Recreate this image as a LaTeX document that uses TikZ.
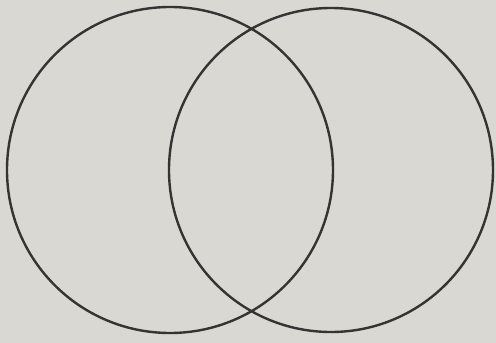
\documentclass[tikz,border=0pt]{standalone}
\definecolor{paper}{HTML}{D9D8D3}
\definecolor{ink}{HTML}{353433}
\tikzset{ring/.style={draw=ink,line width=2.4pt}}
\begin{document}
\begin{tikzpicture}[x=1pt,y=-1pt]
\fill[paper] (0,0) rectangle (496,343);
\useasboundingbox (0,0) rectangle (496,343);
\node[ring,circle,minimum size=326pt,inner sep=0pt] (A) at (170,170) {};
\node[ring,circle,minimum size=324pt,inner sep=0pt] (B) at (331,170) {};
\end{tikzpicture}
\end{document}
